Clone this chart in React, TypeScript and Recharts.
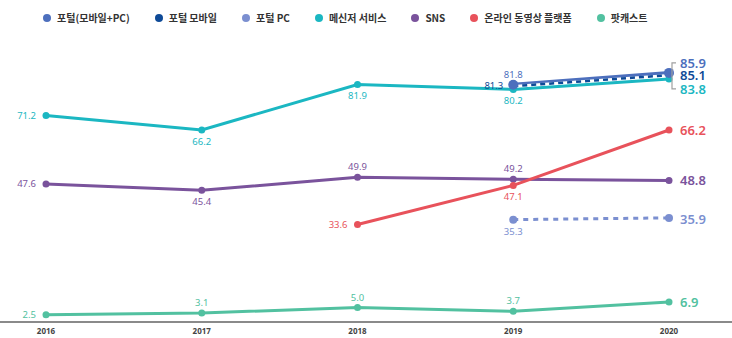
import { LineChart, Line, XAxis, YAxis, LabelList } from 'recharts'

const years = ['2016', '2017', '2018', '2019', '2020']
const portalAll = [null, null, null, 81.8, 85.9]
const portalMobile = [null, null, null, 81.3, 85.1]
const portalPc = [null, null, null, 35.3, 35.9]
const messenger = [71.2, 66.2, 81.9, 80.2, 83.8]
const sns = [47.6, 45.4, 49.9, 49.2, 48.8]
const video = [null, null, 33.6, 47.1, 66.2]
const podcast = [2.5, 3.1, 5.0, 3.7, 6.9]

const legendNames = ['포털(모바일+PC)', '포털 모바일', '포털 PC', '메신저 서비스', 'SNS', '온라인 동영상 플랫폼', '팟캐스트']

const C = {
  portalAll: '#4d6fbd',
  portalMobile: '#0e4a97',
  portalPc: '#7b8fd0',
  messenger: '#1bb7c2',
  sns: '#7a539c',
  video: '#e8525b',
  podcast: '#52c1a0',
}
const legendColors = [C.portalAll, C.portalMobile, C.portalPc, C.messenger, C.sns, C.video, C.podcast]

const data = years.map((year, i) => ({
  year,
  portalAll: portalAll[i],
  portalMobile: portalMobile[i],
  portalPc: portalPc[i],
  messenger: messenger[i],
  sns: sns[i],
  video: video[i],
  podcast: podcast[i],
}))

const FONT = '"Noto Sans", "Noto Sans CJK KR", sans-serif'

// placement per point: l = left, a = above, b = below, r<dy> = big label on the right
type Place = string | null

const makeLabel = (color: string, places: Place[], bracket = false) => (props: any) => {
  const { x, y, value, index } = props
  if (value == null || x == null || y == null) return null
  const p = places[index]
  if (!p) return null
  const txt = Number(value).toFixed(1)
  if (p[0] === 'r') {
    const dy = Number(p.slice(1) || 0)
    return (
      <g>
        {bracket && (
          <path d={`M ${x + 7} ${y - 10} h -4 v 26 h 4`} stroke="#a0a0a0" strokeWidth={1.2} fill="none" />
        )}
        <text x={x + 11} y={y + dy + 5} fill={color} fontSize={13} fontWeight={600} fontFamily={FONT}>{txt}</text>
      </g>
    )
  }
  let tx = x, ty = y + 3, anchor: any = 'middle'
  if (p === 'l') { tx = x - 10; anchor = 'end' }
  if (p === 'a') ty = y - 7
  if (p === 'b') ty = y + 15
  return (
    <text x={tx} y={ty} fill={color} fontSize={9.5} textAnchor={anchor} fontFamily={FONT}>{txt}</text>
  )
}

const legend = (
  <div style={{ position: 'absolute', left: 43, top: 10, display: 'flex', gap: 25, fontFamily: '"Noto Sans CJK KR", sans-serif', fontSize: 10, fontWeight: 700, color: '#333' }}>
    {legendNames.map((n, i) => (
      <div key={n} style={{ display: 'flex', alignItems: 'center' }}>
        <span style={{ width: 8, height: 8, borderRadius: 4, background: legendColors[i], marginRight: 6, display: 'inline-block' }} />
        {n}
      </div>
    ))}
  </div>
)

export default function App() {
  const dot = (c: string, r = 3.5) => ({ r, fill: c, stroke: c, strokeWidth: 0 })
  return (
    <div style={{ position: 'relative', width: 732, height: 338, background: '#fff' }}>
      <style>{'body{margin:0}'}</style>
      {legend}
      <LineChart width={732} height={338} data={data} margin={{ top: 32, right: 0, bottom: 0, left: 0 }}>
        <XAxis
          dataKey="year"
          height={16}
          padding={{ left: 46, right: 63 }}
          axisLine={{ stroke: '#8a8a8a', strokeWidth: 2 }}
          tickLine={false}
          tick={{ fill: '#444', fontSize: 8, fontWeight: 700, fontFamily: FONT, dy: -2 }}
        />
        <YAxis hide domain={[0, 100]} />

        <Line dataKey="messenger" stroke={C.messenger} strokeWidth={3} dot={dot(C.messenger)} activeDot={false} isAnimationActive={false}>
          <LabelList content={makeLabel(C.messenger, ['l', 'b', 'b', 'b', 'r10'])} />
        </Line>
        <Line dataKey="sns" stroke={C.sns} strokeWidth={3} dot={dot(C.sns)} activeDot={false} isAnimationActive={false}>
          <LabelList content={makeLabel(C.sns, ['l', 'b', 'a', 'a', 'r0'])} />
        </Line>
        <Line dataKey="video" stroke={C.video} strokeWidth={3} dot={dot(C.video)} activeDot={false} isAnimationActive={false}>
          <LabelList content={makeLabel(C.video, [null, null, 'l', 'b', 'r0'])} />
        </Line>
        <Line dataKey="podcast" stroke={C.podcast} strokeWidth={3} dot={dot(C.podcast)} activeDot={false} isAnimationActive={false}>
          <LabelList content={makeLabel(C.podcast, ['l', 'a', 'a', 'a', 'r0'])} />
        </Line>
        <Line dataKey="portalPc" stroke={C.portalPc} strokeWidth={3} strokeDasharray="5 5" dot={dot(C.portalPc, 4)} activeDot={false} isAnimationActive={false}>
          <LabelList content={makeLabel(C.portalPc, [null, null, null, 'b', 'r1'])} />
        </Line>
        <Line dataKey="portalAll" stroke={C.portalAll} strokeWidth={4} dot={dot(C.portalAll, 5)} activeDot={false} isAnimationActive={false}>
          <LabelList content={makeLabel(C.portalAll, [null, null, null, 'a', 'r-10'], true)} />
        </Line>
        <Line dataKey="portalMobile" stroke="#ffffff" strokeWidth={2.5} dot={false} activeDot={false} legendType="none" isAnimationActive={false} />
        <Line dataKey="portalMobile" stroke={C.portalMobile} strokeWidth={2.5} strokeDasharray="5 4" dot={false} activeDot={false} isAnimationActive={false}>
          <LabelList content={makeLabel(C.portalMobile, [null, null, null, 'l', 'r0'])} />
        </Line>
      </LineChart>
    </div>
  )
}
